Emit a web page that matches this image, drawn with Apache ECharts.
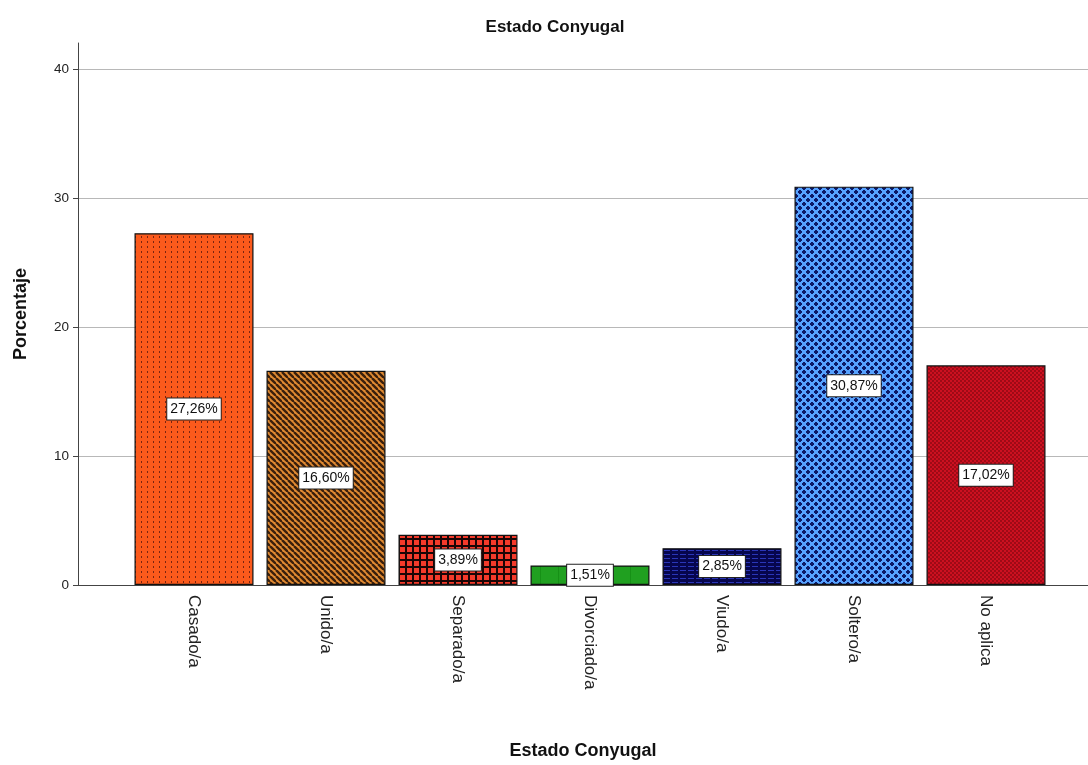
<!DOCTYPE html>
<html>
<head>
<meta charset="utf-8">
<script src="https://cdn.jsdelivr.net/npm/echarts@6/dist/echarts.min.js"></script>
<style>
  html, body { margin: 0; padding: 0; background: #fff; }
  #chart { width: 1088px; height: 765px; }
</style>
</head>
<body>
<div id="chart"></div>
<script>
// Distribución del estado conyugal (porcentaje)
const categories = ['Casado/a', 'Unido/a', 'Separado/a', 'Divorciado/a', 'Viudo/a', 'Soltero/a', 'No aplica'];
const percentages = [27.26, 16.60, 3.89, 1.51, 2.85, 30.87, 17.02];
const yTicks = [0, 10, 20, 30, 40];

// Small tiled fills, one per category
function tile(w, h, draw) {
  const c = document.createElement('canvas');
  c.width = w; c.height = h;
  const g = c.getContext('2d');
  draw(g, w, h);
  return { image: c, repeat: 'repeat' };
}

const fills = [
  // dotted vertical dashes on orange
  tile(6, 5, (g, w, h) => {
    g.fillStyle = '#fb5a1c'; g.fillRect(0, 0, w, h);
    g.fillStyle = '#7a2410'; g.fillRect(3, 1, 1, 2);
  }),
  // diagonal stripes on brown-orange
  tile(6, 6, (g, w, h) => {
    g.fillStyle = '#e08a32'; g.fillRect(0, 0, w, h);
    g.strokeStyle = '#3a1f0c'; g.lineWidth = 2.4;
    [-6, 0, 6].forEach(o => { g.beginPath(); g.moveTo(o, 0); g.lineTo(o + 6, 6); g.stroke(); });
  }),
  // red squares on black grid
  tile(7, 7, (g, w, h) => {
    g.fillStyle = '#1a0505'; g.fillRect(0, 0, w, h);
    g.fillStyle = '#f43a2a'; g.fillRect(1, 1, 5, 5);
  }),
  // green with faint vertical seams
  tile(18, 4, (g, w, h) => {
    g.fillStyle = '#20a020'; g.fillRect(0, 0, w, h);
    g.fillStyle = '#169016'; g.fillRect(0, 0, 1, h);
  }),
  // navy with blue horizontal dashes
  tile(8, 4, (g, w, h) => {
    g.fillStyle = '#06064e'; g.fillRect(0, 0, w, h);
    g.fillStyle = '#2a36b8'; g.fillRect(0, 2, 6, 1);
  }),
  // dark crosses on light blue
  tile(8, 8, (g, w, h) => {
    g.fillStyle = '#56a2ff'; g.fillRect(0, 0, w, h);
    g.fillStyle = '#0c1a66';
    const plus = (x, y) => { g.fillRect(x - 1, y - 2, 2, 4); g.fillRect(x - 2, y - 1, 4, 2); };
    plus(4, 4); plus(0, 0); plus(8, 0); plus(0, 8); plus(8, 8);
  }),
  // fine checker on red
  tile(4, 4, (g, w, h) => {
    g.fillStyle = '#cc1020'; g.fillRect(0, 0, w, h);
    g.fillStyle = '#9e0a16'; g.fillRect(0, 0, 2, 2); g.fillRect(2, 2, 2, 2);
  })
];

const Y_MIN = 0, Y_MAX = 42;
const GRID_TOP = 43, GRID_BOTTOM = 180;
const font = 'Arial, "Liberation Sans", sans-serif';

const chart = echarts.init(document.getElementById('chart'), null, { renderer: 'canvas' });

chart.setOption({
  animation: false,
  backgroundColor: '#ffffff',
  title: {
    text: 'Estado Conyugal',
    left: 550, top: 14, textAlign: 'center',
    textStyle: { fontFamily: font, fontSize: 17, fontWeight: 'bold', color: '#111' }
  },
  grid: [
    // frame: y axis, gridlines and baseline
    { left: 78, right: 0, top: GRID_TOP, bottom: GRID_BOTTOM },
    // bars
    { left: 128, right: 36, top: GRID_TOP, bottom: GRID_BOTTOM }
  ],
  xAxis: [
    {
      gridIndex: 0, type: 'value', min: 0, max: 1,
      axisLine: { show: true, onZero: false, lineStyle: { color: '#444', width: 1 } },
      axisTick: { show: false }, axisLabel: { show: false }, splitLine: { show: false },
      name: 'Estado Conyugal', nameLocation: 'middle', nameGap: 157,
      nameTextStyle: { fontFamily: font, fontSize: 18, fontWeight: 'bold', color: '#111' }
    },
    {
      gridIndex: 1, type: 'category', data: categories,
      axisLine: { show: false }, axisTick: { show: false },
      axisLabel: {
        rotate: -90, interval: 0, margin: 10,
        fontFamily: font, fontSize: 17, color: '#222'
      }
    }
  ],
  yAxis: [
    {
      gridIndex: 0, type: 'value', min: Y_MIN, max: Y_MAX, interval: 10,
      name: 'Porcentaje', nameLocation: 'middle', nameGap: 48, nameRotate: 90,
      nameTextStyle: { fontFamily: font, fontSize: 18, fontWeight: 'bold', color: '#111' },
      axisLine: { show: true, lineStyle: { color: '#444', width: 1 } },
      axisTick: { show: true, length: 5, customValues: yTicks, lineStyle: { color: '#444' } },
      axisLabel: { customValues: yTicks, margin: 9, fontFamily: font, fontSize: 13.5, color: '#222' },
      splitLine: { show: false }
    },
    {
      gridIndex: 1, type: 'value', min: Y_MIN, max: Y_MAX, interval: 10, show: false,
      splitLine: { show: false }
    }
  ],
  series: [
    {
      // horizontal reference lines at each labelled tick, kept behind the bars
      type: 'line', xAxisIndex: 0, yAxisIndex: 0, data: [], silent: true, z: 0,
      markLine: {
        silent: true, symbol: 'none', label: { show: false }, z: 0,
        lineStyle: { color: '#b8b8b8', width: 1, type: 'solid' },
        data: yTicks.filter(v => v > 0).map(v => ({ yAxis: v }))
      }
    },
    {
      type: 'bar', xAxisIndex: 1, yAxisIndex: 1, barWidth: 119,
      data: percentages.map((v, i) => ({
        value: v,
        itemStyle: { color: fills[i], borderColor: '#111', borderWidth: 1.2 }
      })),
      label: {
        show: true, position: 'inside',
        formatter: p => p.value.toFixed(2).replace('.', ',') + '%',
        fontFamily: font, fontSize: 14, color: '#111',
        backgroundColor: '#ffffff', borderColor: '#222', borderWidth: 1,
        padding: [4, 3, 3, 3]
      },
      z: 5
    }
  ]
});
</script>
</body>
</html>
